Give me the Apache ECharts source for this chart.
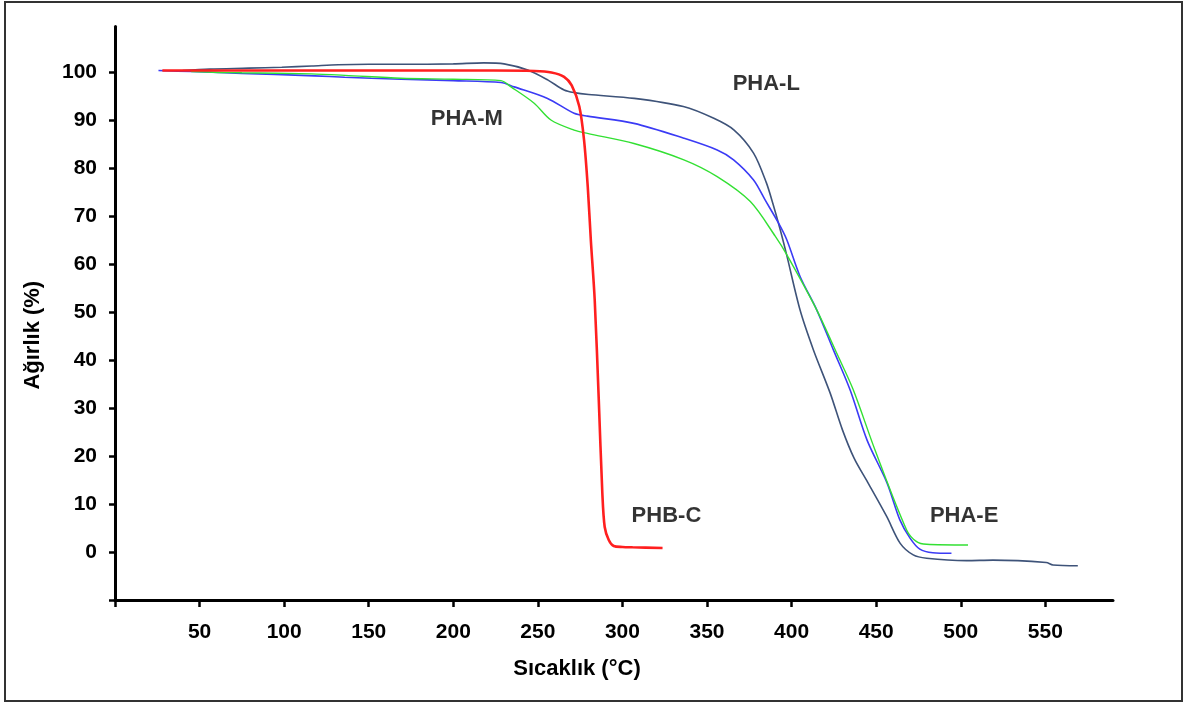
<!DOCTYPE html>
<html>
<head>
<meta charset="utf-8">
<script src="https://cdn.jsdelivr.net/npm/echarts@6/dist/echarts.min.js"></script>
<style>
html,body{margin:0;padding:0;background:#fff;}
#c{width:1184px;height:703px;}
</style>
</head>
<body>
<div id="c"></div>
<script>
// ---- Data ----
var xTicks = [0, 50, 100, 150, 200, 250, 300, 350, 400, 450, 500, 550];
var xLabels = [50, 100, 150, 200, 250, 300, 350, 400, 450, 500, 550];
var yTicks = [-10, 0, 10, 20, 30, 40, 50, 60, 70, 80, 90, 100];
var yLabels = [0, 10, 20, 30, 40, 50, 60, 70, 80, 90, 100];

var seriesNames = ['PHA-L', 'PHA-M', 'PHA-E', 'PHB-C'];

// PHA-L (dark slate curve)
var phaL_T = [40, 56, 79, 98.6, 116.3, 132, 150, 169, 200, 218, 230, 244, 256, 265.5, 271.4, 280, 307, 336, 354, 366, 377.5, 385, 389, 393, 397, 405, 412.9, 422.8, 430, 437, 445, 456.2, 464.2, 471.9, 479.8, 503.4, 519, 550.5, 554.5, 569.2];
var phaL_W = [100.3, 100.6, 100.8, 101.0, 101.25, 101.5, 101.6, 101.6, 101.7, 101.9, 101.7, 100.4, 98.3, 96.25, 95.7, 95.3, 94.5, 92.8, 90.35, 87.9, 83.1, 77, 72.5, 67.5, 62, 50.4, 42.1, 33.1, 25.5, 19.5, 14.5, 7.4, 1.8, -0.6, -1.3, -1.8, -1.7, -2.2, -2.7, -2.85];

// PHA-M (blue curve)
var phaM_T = [25.7, 45.4, 61.1, 74.9, 94.5, 118.1, 135.8, 151.5, 169.2, 200, 228.2, 236, 255.7, 271.4, 279.3, 306.8, 336.3, 356, 365.7, 377.5, 384.4, 392.3, 397.2, 405, 414.9, 424.7, 434.6, 444.6, 456.4, 464, 470, 475.8, 483.5, 494.5];
var phaM_W = [100.3, 100.1, 99.9, 99.7, 99.5, 99.2, 98.9, 98.7, 98.5, 98.2, 97.8, 96.9, 94.5, 91.4, 90.8, 89.3, 86.2, 83.75, 81.7, 77.5, 73.3, 68.5, 65, 57.4, 50.4, 42.1, 33.75, 23.3, 14.4, 6.7, 2.9, 0.6, -0.15, -0.27];

// PHA-E (green curve)
var phaE_T = [45, 61, 75, 116, 136, 169, 200, 228.2, 234.1, 247.8, 257.7, 271.4, 279.3, 306.8, 336.3, 356, 375.6, 390.3, 397.2, 414.9, 426.7, 436.5, 449.3, 468, 473.9, 479.8, 504.3];
var phaE_W = [100.1, 99.9, 99.85, 99.6, 99.3, 98.7, 98.5, 98.2, 96.9, 93.5, 90, 87.9, 87.2, 85.1, 81.7, 78.2, 73, 65.8, 61.9, 50.4, 41.4, 33.75, 21.25, 4.6, 2.15, 1.6, 1.46];

// PHB-C (red curve)
var phbC_T = [28, 100, 170, 224, 248, 258, 265.5, 270, 274.5, 277.3, 279.5, 281.3, 283.6, 286, 288.1, 289.5, 291.9, 294.8, 300, 306, 323.7];
var phbC_W = [100.3, 100.3, 100.3, 100.3, 100.2, 99.9, 99.0, 97.2, 92.8, 85.8, 76, 65, 52.5, 31.7, 12.3, 5.2, 2.5, 1.25, 1.05, 0.98, 0.83];

var seriesColors = ['#3e5379', '#3b3bf5', '#33e033', '#ff1f1f'];
var seriesWidths = [1.6, 1.6, 1.4, 2.6];

function pairs(t, w) {
  var out = [];
  for (var i = 0; i < t.length; i++) out.push([t[i], w[i]]);
  return out;
}
var seriesData = [pairs(phaL_T, phaL_W), pairs(phaM_T, phaM_W), pairs(phaE_T, phaE_W), pairs(phbC_T, phbC_W)];

// Annotation labels near the curves: [name, temperature, weight]
var annotations = [
  ['PHA-L', 385, 97.5],
  ['PHA-M', 208, 90.2],
  ['PHB-C', 326, 7.5],
  ['PHA-E', 502, 7.5]
];

var FONT = '"Liberation Sans", Arial, sans-serif';

var chart = echarts.init(document.getElementById('c'), null, {renderer: 'canvas'});

var series = seriesNames.map(function (n, i) {
  return {
    name: n,
    type: 'line',
    data: seriesData[i],
    showSymbol: false,
    smooth: 0.3,
    lineStyle: {color: seriesColors[i], width: seriesWidths[i]},
    itemStyle: {color: seriesColors[i]},
    z: i === 3 ? 5 : 3,
    silent: true
  };
});

// annotation texts as a scatter series with labels
series.push({
  type: 'scatter',
  data: annotations.map(function (a) { return {value: [a[1], a[2]], name: a[0]}; }),
  symbolSize: 0,
  silent: true,
  label: {
    show: true,
    position: 'inside',
    formatter: function (p) { return p.name; },
    color: '#000',
    fontFamily: FONT,
    fontWeight: 'bold',
    fontSize: 22
  },
  z: 10
});

chart.setOption({
  backgroundColor: '#ffffff',
  animation: false,
  grid: {left: 115, right: 71, top: 26.4, bottom: 103, containLabel: false},
  xAxis: {
    type: 'value',
    min: 0,
    max: 590,
    name: 'Sıcaklık (°C)',
    nameLocation: 'middle',
    nameGap: 58,
    nameTextStyle: {fontFamily: FONT, fontWeight: 'bold', fontSize: 22, color: '#000', padding: [0, 74, 0, 0]},
    axisLine: {show: true, onZero: false, lineStyle: {color: '#000', width: 3}},
    axisTick: {show: true, inside: false, length: 7, lineStyle: {color: '#000', width: 2.5}, customValues: xTicks},
    axisLabel: {show: true, margin: 22, fontFamily: FONT, fontWeight: 'bold', fontSize: 21, color: '#000', customValues: xLabels},
    splitLine: {show: false}
  },
  yAxis: {
    type: 'value',
    min: -10,
    max: 109.5,
    name: 'Ağırlık (%)',
    nameLocation: 'middle',
    nameGap: 71,
    nameRotate: 90,
    nameTextStyle: {fontFamily: FONT, fontWeight: 'bold', fontSize: 22, color: '#000', padding: [0, 44, 0, 0]},
    axisLine: {show: true, onZero: false, lineStyle: {color: '#000', width: 3}},
    axisTick: {show: true, inside: false, length: 6, lineStyle: {color: '#000', width: 2.5}, customValues: yTicks},
    axisLabel: {show: true, margin: 18, fontFamily: FONT, fontWeight: 'bold', fontSize: 21, color: '#000', customValues: yLabels},
    splitLine: {show: false}
  },
  graphic: [{
    type: 'rect',
    shape: {x: 5, y: 2, width: 1177, height: 699},
    style: {fill: null, stroke: '#333', lineWidth: 2},
    silent: true,
    z: -1
  }],
  series: series
});
</script>
</body>
</html>
